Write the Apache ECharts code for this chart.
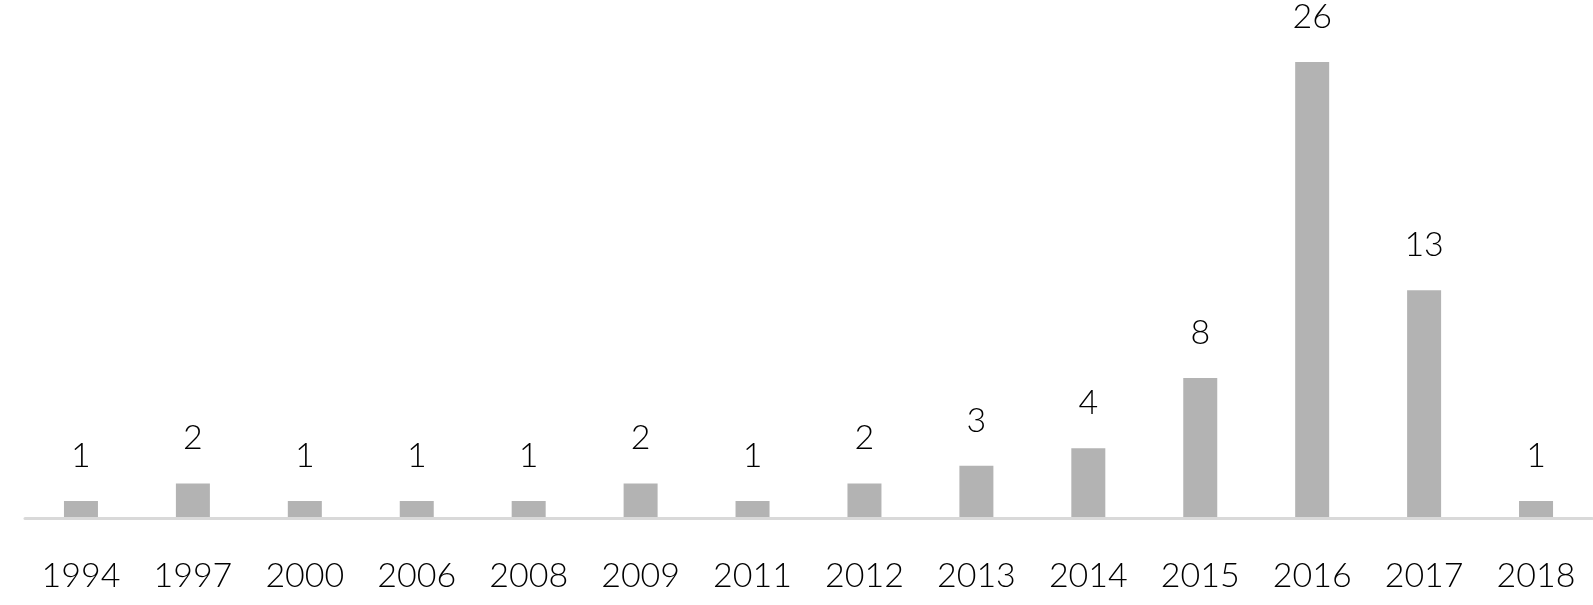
<!DOCTYPE html>
<html><head><meta charset="utf-8">
<script src="https://cdn.jsdelivr.net/npm/echarts@6/dist/echarts.min.js"></script>
<style>html,body{margin:0;padding:0;background:#fff}#c{width:1593px;height:605px}</style>
</head><body><div id="c"></div>
<script>
const categories = ['1994','1997','2000','2006','2008','2009','2011','2012','2013','2014','2015','2016','2017','2018'];
const counts = [1,2,1,1,1,2,1,2,3,4,8,26,13,1];
const chart = echarts.init(document.getElementById('c'));
chart.setOption({
  animation: false,
  grid: {left: 25, right: 1, top: 62, bottom: 86.5, containLabel: false},
  xAxis: {
    type: 'category', data: categories, z: 5,
    axisLine: {show: true, lineStyle: {color: '#d9d9d9', width: 3}},
    axisTick: {show: false},
    axisLabel: {margin: 41, fontFamily: 'Lato', fontWeight: 300, fontSize: 34, color: '#000'}
  },
  yAxis: {type: 'value', min: 0, max: 26, show: false, splitLine: {show: false}},
  series: [{
    type: 'bar', data: counts, barWidth: 34,
    itemStyle: {color: '#b3b3b3'},
    label: {show: true, position: 'top', distance: 28, fontFamily: 'Lato', fontWeight: 300, fontSize: 34, color: '#000'}
  }]
});
</script></body></html>
